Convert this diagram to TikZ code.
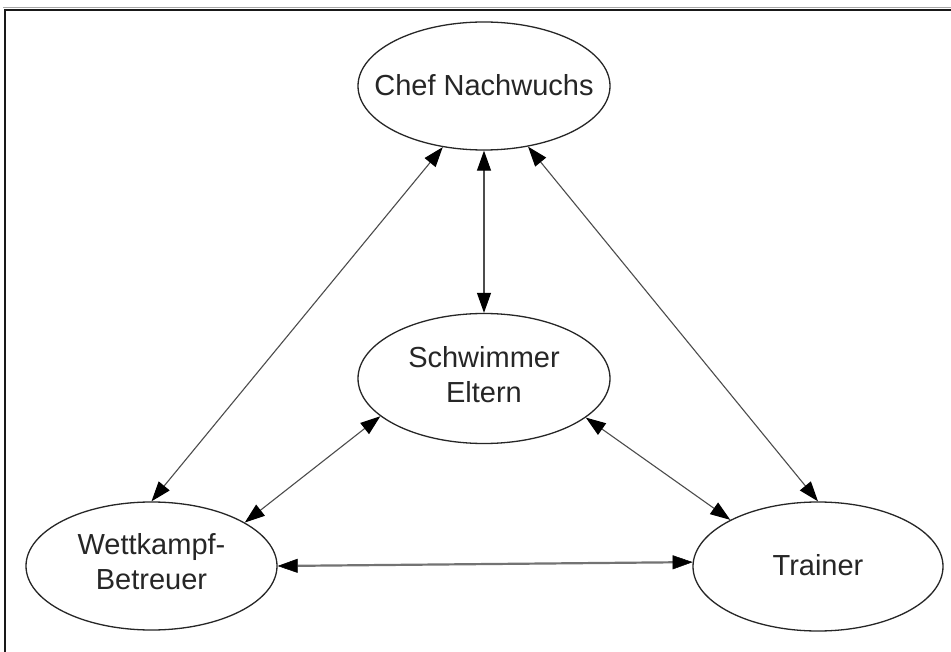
\documentclass[tikz,border=0pt]{standalone}
\usepackage{fontspec}
\setmainfont{Liberation Sans}
\usetikzlibrary{shapes.geometric,arrows.meta}
\begin{document}
\begin{tikzpicture}[x=1pt,y=-1pt,
  ell/.style={ellipse,draw=black!85,line width=1.3pt,inner sep=0pt,minimum width=252pt,minimum height=128pt},
  txt/.style={text=black!85,font=\fontsize{29}{35}\selectfont,align=center,inner sep=0pt},
  conn/.style={draw=black!70,line width=1.1pt,{Triangle[length=20pt,width=14pt,color=black,fill=black]}-{Triangle[length=20pt,width=14pt,color=black,fill=black]}},
  connthick/.style={draw=black!55,line width=2.2pt,{Triangle[length=20pt,width=14pt,color=black,fill=black,line width=0.5pt]}-{Triangle[length=20pt,width=14pt,color=black,fill=black,line width=0.5pt]}}
]
\useasboundingbox (0,0) rectangle (951,652);
\fill[white] (0,0) rectangle (951,652);
% frame
\draw[black!35,line width=1pt] (3,8) -- (960,8);
\draw[black!90,line width=2pt] (5,670) -- (5,10) -- (960,10);

\node[ell] (chef) at (484,86) {};
\node[txt] (chefT) at (484,85) {Chef Nachwuchs};

\node[ell,minimum height=130pt] (schw) at (484,378.5) {};
\node[txt] (schwT) at (484,375) {Schwimmer\\Eltern};

\node[ell,minimum width=251pt] (wett) at (151.5,566) {};
\node[txt] (wettT) at (151.5,562) {Wettkampf-\\Betreuer};

\node[ell,minimum width=250pt,minimum height=129pt] (trai) at (818,566.5) {};
\node[txt] (traiT) at (818,565) {Trainer};

\draw[conn] (chef.south) -- (schw.north);
\draw[conn] (chef.236) -- (wett.north);
\draw[conn] (chef.306.6) -- (trai.north);
\draw[conn] (schw.200.7) -- (wett.25.7);
\draw[conn] (schw.339.5) -- (trai.152.7);
\draw[connthick] (wett.east) -- (trai.178.4);
\end{tikzpicture}
\end{document}
